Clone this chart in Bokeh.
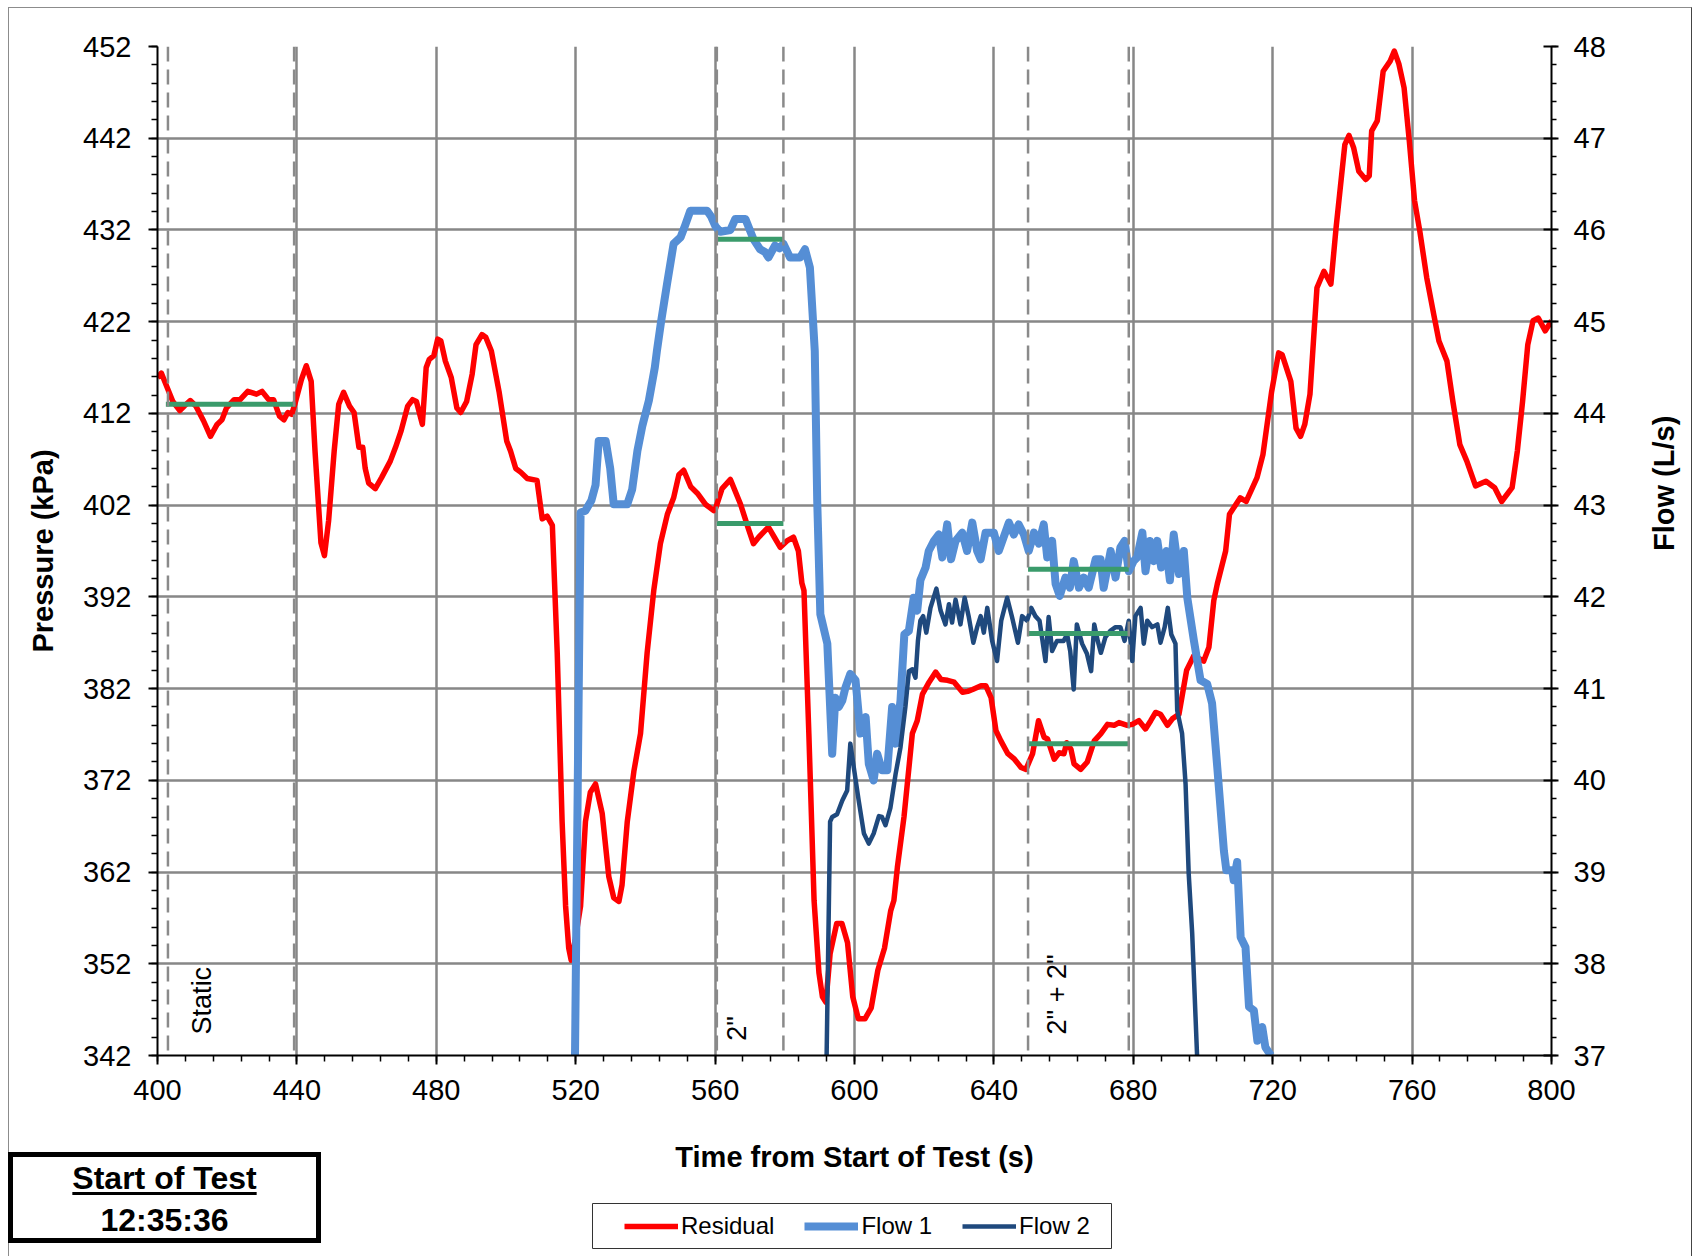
import math
from bokeh.plotting import figure
from bokeh.models import (Range1d, LinearAxis, FixedTicker, Legend, LegendItem, Span, Div)
from bokeh.core.properties import value
from bokeh.embed import file_html
from bokeh.resources import INLINE

# ---------------- data ----------------
res_t = [400.0, 401.1, 402.8, 404.4, 406.4, 407.7, 409.4, 411.0, 413.2, 415.2, 417.1, 418.5, 419.8,
         422.0, 423.7, 425.9, 428.4, 430.0, 431.9, 433.3, 435.0, 436.3, 437.4, 438.5, 439.4, 441.3,
         442.7, 444.1, 445.2, 446.9, 447.9, 449.1, 450.7, 452.0, 453.4, 455.1, 456.4, 457.8, 458.9,
         459.6, 460.6, 462.5, 464.3, 466.8, 468.3, 469.9, 471.8, 473.2, 474.3, 476.0, 477.1, 478.0,
         479.3, 480.4, 481.3, 482.6, 484.3, 485.9, 487.0, 488.7, 490.3, 491.4, 493.1, 494.2, 495.8,
         498.0, 500.2, 501.3, 502.8, 504.2, 506.1, 508.9, 510.4, 511.8, 513.3, 514.7, 516.1, 517.1,
         518.0, 518.7, 519.9, 521.4, 522.8, 524.2, 525.7, 527.6, 529.5, 530.9, 532.4, 533.3, 534.8,
         536.7, 538.6, 540.5, 542.4, 544.3, 546.3, 548.1, 549.6, 551.0, 553.0, 554.9, 557.2, 559.6,
         560.1, 562.0, 564.4, 567.3, 569.5, 571.0, 572.5, 575.3, 577.0, 578.7, 580.6, 582.5, 583.9,
         584.9, 585.5, 586.9, 588.4, 589.8, 590.8, 591.8, 593.0, 594.9, 596.4, 598.0, 599.5, 601.1,
         603.0, 604.8, 606.7, 608.6, 610.4, 611.3, 612.3, 614.2, 616.6, 618.0, 619.5, 621.4, 623.3,
         624.8, 626.7, 628.6, 631.0, 632.5, 633.9, 636.3, 637.7, 639.2, 640.6, 642.0, 644.0, 645.9,
         647.8, 649.2, 651.1, 652.8, 654.4, 655.4, 657.3, 658.7, 660.1, 660.9, 662.1, 663.0, 664.9,
         666.8, 668.8, 670.7, 672.6, 674.5, 675.9, 678.3, 679.7, 681.6, 683.5, 685.0, 686.4, 687.8,
         689.8, 691.2, 693.1, 695.3, 697.4, 700.2, 701.7, 703.1, 704.1, 706.5, 707.6, 709.3, 710.7,
         712.4, 714.2, 715.5, 717.2, 719.7, 721.7, 722.7, 725.2, 726.7, 728.0, 729.2, 730.7, 732.7,
         734.7, 736.7, 738.2, 739.2, 740.7, 741.9, 743.2, 744.7, 746.7, 747.7, 748.4, 750.0, 751.7,
         753.7, 754.9, 756.2, 757.7, 759.2, 760.7, 762.2, 764.2, 766.2, 767.7, 770.0, 771.7, 773.7,
         775.7, 778.2, 781.2, 783.7, 785.7, 788.7, 790.2, 791.7, 793.2, 794.7, 796.2, 798.2, 800.0]
res_p = [415.9, 416.4, 414.8, 413.3, 412.3, 412.8, 413.4, 412.8, 411.2, 409.5, 410.8, 411.3, 412.6,
         413.5, 413.5, 414.4, 414.1, 414.4, 413.5, 413.5, 411.7, 411.3, 412.1, 411.9, 413.0, 415.7,
         417.2, 415.5, 407.9, 397.9, 396.5, 400.3, 407.9, 413.0, 414.3, 412.8, 412.1, 408.3, 408.3,
         406.0, 404.4, 403.8, 405.0, 406.8, 408.3, 410.1, 412.8, 413.5, 413.3, 410.8, 417.0, 417.9,
         418.3, 420.1, 419.9, 417.7, 415.9, 412.6, 412.1, 413.3, 416.3, 419.5, 420.6, 420.3, 418.8,
         414.4, 409.0, 407.9, 406.0, 405.6, 404.9, 404.7, 400.5, 400.8, 399.8, 385.9, 367.5, 358.3,
         353.7, 352.4, 354.7, 358.3, 367.5, 370.7, 371.6, 368.4, 361.5, 359.2, 358.8, 360.6, 367.5,
         373.0, 377.1, 385.9, 392.7, 397.8, 401.0, 402.8, 405.3, 405.8, 404.0, 403.3, 402.1, 401.4,
         401.6, 403.8, 404.8, 402.1, 399.5, 397.8, 398.5, 399.6, 398.5, 397.4, 398.1, 398.5, 397.0,
         393.5, 392.7, 377.1, 358.9, 351.0, 348.4, 347.8, 353.1, 356.4, 356.4, 354.3, 348.4, 346.0,
         346.0, 347.2, 351.3, 353.7, 357.8, 358.9, 362.5, 368.0, 377.1, 378.5, 381.4, 382.7, 383.8,
         383.0, 382.9, 382.7, 381.6, 381.7, 381.9, 382.3, 382.3, 381.0, 377.4, 376.3, 374.9, 374.3,
         373.4, 373.2, 374.9, 378.5, 376.7, 376.5, 374.3, 375.0, 374.9, 376.1, 375.4, 373.8, 373.2,
         374.0, 376.3, 377.1, 378.1, 378.0, 378.3, 378.0, 378.1, 378.5, 377.6, 378.5, 379.4, 379.2,
         378.0, 378.7, 379.2, 384.0, 385.6, 385.0, 386.5, 391.6, 393.4, 397.0, 401.0, 402.0, 402.8,
         402.4, 403.9, 405.0, 407.5, 414.4, 418.6, 418.4, 415.5, 410.4, 409.5, 410.8, 414.1, 425.7,
         427.5, 426.1, 432.3, 435.9, 441.3, 442.3, 441.0, 438.4, 437.5, 437.9, 442.8, 443.9, 449.3,
         450.4, 451.5, 450.1, 447.5, 441.7, 435.2, 431.9, 426.8, 422.8, 419.9, 417.7, 413.3, 408.6,
         406.8, 404.1, 404.6, 403.9, 402.4, 403.9, 407.9, 413.3, 419.5, 422.1, 422.4, 421.0, 422.1]

flow1_t = [519.8, 520.6, 521.4, 522.8, 524.5, 525.7, 526.6, 528.6, 529.9, 530.9, 534.8, 536.2, 537.7,
           539.1, 541.0, 542.7, 543.3, 544.5, 546.2, 548.1, 550.1, 551.4, 552.9, 557.7, 558.8, 560.1,
           561.5, 564.4, 565.8, 568.7, 571.0, 572.9, 574.3, 575.3, 577.2, 578.5, 579.6, 581.5, 584.4,
           585.8, 587.2, 588.6, 589.3, 590.2, 592.2, 593.6, 594.5, 595.5, 596.5, 597.4, 598.8, 600.3,
           601.7, 603.2, 604.1, 605.5, 606.5, 607.9, 609.4, 610.8, 611.8, 613.2, 614.3, 615.6, 617.0,
           618.0, 618.9, 620.4, 621.3, 622.8, 624.2, 625.2, 626.6, 627.7, 629.0, 630.9, 632.3, 633.8,
           635.2, 636.2, 637.6, 640.0, 641.4, 642.8, 644.3, 645.7, 647.1, 648.6, 650.0, 651.5, 652.9,
           654.3, 655.3, 656.7, 657.7, 658.9, 660.5, 661.8, 662.9, 664.4, 665.8, 667.2, 669.2, 670.6,
           671.5, 673.5, 674.9, 676.3, 677.5, 678.7, 680.1, 681.1, 682.6, 683.5, 684.8, 685.9, 686.9,
           688.0, 689.5, 690.5, 691.6, 693.1, 694.5, 695.5, 697.4, 699.3, 701.2, 702.6, 704.1, 706.0,
           706.7, 708.4, 708.8, 709.8, 710.8, 712.2, 713.2, 714.6, 715.6, 717.0, 717.9, 719.5]
flow1_q = [37.0, 40.0, 42.92, 42.94, 43.05, 43.22, 43.70, 43.70, 43.40, 43.01, 43.01, 43.17, 43.59,
           43.86, 44.14, 44.50, 44.68, 45.00, 45.41, 45.85, 45.92, 46.05, 46.21, 46.21, 46.15, 46.04,
           45.98, 46.00, 46.12, 46.12, 45.90, 45.79, 45.76, 45.70, 45.83, 45.80, 45.85, 45.70, 45.70,
           45.79, 45.59, 44.68, 43.05, 41.81, 41.49, 40.29, 40.90, 40.80, 40.87, 41.01, 41.16, 41.09,
           40.51, 40.69, 40.18, 40.00, 40.29, 40.11, 40.11, 40.80, 40.40, 40.87, 41.59, 41.63, 41.99,
           41.85, 42.18, 42.32, 42.50, 42.61, 42.68, 42.43, 42.79, 42.41, 42.61, 42.70, 42.50, 42.81,
           42.50, 42.41, 42.70, 42.70, 42.50, 42.65, 42.81, 42.68, 42.79, 42.68, 42.50, 42.70, 42.58,
           42.79, 42.43, 42.61, 42.14, 42.01, 42.21, 42.10, 42.39, 42.10, 42.21, 42.10, 42.41, 42.41,
           42.10, 42.50, 42.21, 42.54, 42.61, 42.28, 42.39, 42.43, 42.70, 42.28, 42.61, 42.39, 42.61,
           42.32, 42.50, 42.18, 42.68, 42.25, 42.50, 41.99, 41.52, 41.09, 41.05, 40.84, 40.14, 39.23,
           39.02, 39.02, 38.91, 39.11, 38.29, 38.18, 37.53, 37.49, 37.16, 37.31, 37.09, 37.0]

flow2_t = [592.0, 593.0, 593.6, 595.0, 596.5, 597.9, 598.8, 599.8, 601.2, 602.7, 604.1, 605.5, 607.0,
           607.9, 608.9, 610.3, 611.8, 613.2, 614.6, 615.6, 616.6, 617.5, 618.2, 618.9, 619.7, 620.6,
           621.8, 623.5, 624.7, 626.1, 627.1, 628.0, 629.0, 630.4, 631.6, 632.8, 634.1, 635.2, 636.2,
           637.1, 638.1, 639.5, 640.9, 642.1, 643.8, 645.2, 646.9, 648.1, 649.5, 650.7, 651.9, 653.1,
           654.8, 655.7, 656.7, 658.1, 660.0, 661.0, 661.9, 662.9, 663.8, 665.3, 666.7, 667.9, 668.8,
           669.8, 670.7, 672.0, 673.4, 674.9, 676.3, 677.5, 678.7, 679.7, 680.6, 682.1, 683.0, 684.0,
           685.4, 686.9, 687.8, 689.0, 689.9, 690.9, 692.1, 692.6, 694.0, 695.0, 695.9, 696.9, 698.3]
flow2_q = [37.0, 39.55, 39.60, 39.63, 39.78, 39.89, 40.40, 40.14, 39.78, 39.42, 39.31, 39.42, 39.61,
           39.60, 39.51, 39.70, 40.07, 40.36, 40.80, 41.19, 41.21, 41.12, 41.52, 41.74, 41.79, 41.61,
           41.88, 42.09, 41.85, 41.70, 41.92, 41.72, 41.97, 41.70, 41.99, 41.78, 41.50, 41.67, 41.79,
           41.61, 41.88, 41.52, 41.30, 41.74, 41.99, 41.78, 41.50, 41.79, 41.74, 41.88, 41.79, 41.74,
           41.30, 41.78, 41.41, 41.52, 41.52, 41.59, 41.41, 40.99, 41.70, 41.49, 41.38, 41.19, 41.70,
           41.52, 41.39, 41.56, 41.63, 41.67, 41.67, 41.52, 41.74, 41.30, 41.79, 41.88, 41.49, 41.74,
           41.67, 41.70, 41.50, 41.67, 41.88, 41.59, 41.49, 40.76, 40.51, 39.96, 38.98, 38.33, 37.0]

# test phase markers (s) and phase averages
phase_marks = [403.0, 439.2, 560.5, 579.6, 649.8, 678.7]
avg_res_t0 = [402.4, 560.5, 649.8]
avg_res_t1 = [439.6, 579.6, 678.7]
avg_res_p = [413.0, 400.0, 376.0]
avg_f1_t0 = [560.5, 649.8]
avg_f1_t1 = [579.6, 678.7]
avg_f1_q = [45.9, 42.3]
avg_f2_t0 = [649.8]
avg_f2_t1 = [678.7]
avg_f2_q = [41.6]

phase_names = ["Static", "2\"", "2\" + 2\""]
phase_label_t = [412.9, 566.2, 658.0]
phase_label_p = [344.3, 343.6, 344.3]

series_names = ["Residual", "Flow 1", "Flow 2"]
start_title = "Start of Test"
start_time = "12:35:36"

x_ticks = list(range(400, 801, 40))
x_minor = list(range(400, 801, 8))
p_ticks = list(range(342, 453, 10))
p_minor = list(range(342, 453, 2))
f_ticks = list(range(37, 49))
f_minor = [round(37 + 0.2 * i, 1) for i in range(56)]

# ---------------- styles ----------------
FONT = "Liberation Sans"
BLACK = "#000000"
GRID = "#878787"
RED = "#FF0000"
BLUE1 = "#558ED5"
BLUE2 = "#1F497D"
GREEN = "#3A9B6B"
W_RES, W_F1, W_F2 = 5.5, 8, 4.5

# ---------------- main figure ----------------
p = figure(frame_width=1394, frame_height=1009,
           min_border_left=157, min_border_right=139, min_border_top=46, min_border_bottom=199,
           x_range=Range1d(400, 800), y_range=Range1d(342, 452),
           output_backend="svg", toolbar_location=None)
p.extra_y_ranges = {"flow": Range1d(37, 48)}
p.background_fill_color = "white"
p.border_fill_color = "white"
p.outline_line_color = None

p.xgrid.ticker = FixedTicker(ticks=x_ticks)
p.ygrid.ticker = FixedTicker(ticks=p_ticks)
for g in (p.xgrid, p.ygrid):
    g.grid_line_color = GRID
    g.grid_line_width = 2.5

xa = p.xaxis[0]
xa.ticker = FixedTicker(ticks=x_ticks, minor_ticks=x_minor)
xa.axis_label = "Time from Start of Test (s)"
ya = p.yaxis[0]
ya.ticker = FixedTicker(ticks=p_ticks, minor_ticks=p_minor)
ya.axis_label = "Pressure (kPa)"
ra = LinearAxis(y_range_name="flow", ticker=FixedTicker(ticks=f_ticks, minor_ticks=f_minor),
                axis_label="Flow (L/s)")
if "axis_label_orientation" in ra.properties():
    ra.axis_label_orientation = math.pi / 2
p.add_layout(ra, "right")

for ax in (xa, ya, ra):
    ax.axis_line_color = BLACK
    ax.axis_line_width = 2
    ax.major_tick_line_color = BLACK
    ax.major_tick_line_width = 2
    ax.minor_tick_line_color = BLACK
    ax.minor_tick_line_width = 1.5
    ax.major_label_text_font = FONT
    ax.major_label_text_font_size = "29px"
    ax.major_label_text_color = BLACK
    ax.axis_label_text_font = FONT
    ax.axis_label_text_font_size = "29px"
    ax.axis_label_text_font_style = "bold"
    ax.axis_label_text_color = BLACK

xa.major_tick_in = 0
xa.major_tick_out = 9
xa.minor_tick_in = 0
xa.minor_tick_out = 6
xa.major_label_standoff = 15
xa.axis_label_standoff = 38

ya.major_tick_in = 0
ya.major_tick_out = 9
ya.minor_tick_in = 0
ya.minor_tick_out = 6
ya.major_label_standoff = 17
ya.axis_label_standoff = 21

ra.major_tick_in = 8
ra.major_tick_out = 7
ra.minor_tick_in = 0
ra.minor_tick_out = 5
ra.major_label_standoff = 15
ra.axis_label_standoff = 55

for t in phase_marks:
    p.add_layout(Span(location=t, dimension="height", line_color="#8a8a8a",
                      line_width=2.5, line_dash="15 8"))

p.line(res_t, res_p, line_color=RED, line_width=W_RES, line_join="round")
p.line(flow1_t, flow1_q, y_range_name="flow", line_color=BLUE1, line_width=W_F1, line_join="round")
p.line(flow2_t, flow2_q, y_range_name="flow", line_color=BLUE2, line_width=W_F2, line_join="round")

p.segment(x0=avg_res_t0, x1=avg_res_t1, y0=avg_res_p, y1=avg_res_p, line_color=GREEN, line_width=5)
p.segment(x0=avg_f1_t0, x1=avg_f1_t1, y0=avg_f1_q, y1=avg_f1_q, y_range_name="flow",
          line_color=GREEN, line_width=5)
p.segment(x0=avg_f2_t0, x1=avg_f2_t1, y0=avg_f2_q, y1=avg_f2_q, y_range_name="flow",
          line_color=GREEN, line_width=5)

p.text(x=phase_label_t, y=phase_label_p, text=phase_names, angle=math.pi / 2,
       text_align="left", text_baseline="middle", text_font=value(FONT),
       text_font_size="27px", text_color=BLACK)

# ---------------- legend (own small figure, placed below the axis title) ----------------
lg = figure(width=521, height=47, min_border=1, x_range=Range1d(0, 1), y_range=Range1d(0, 1),
            x_axis_location=None, y_axis_location=None, output_backend="svg",
            toolbar_location=None)
lg.grid.visible = False
lg.outline_line_color = "#333333"
lg.outline_line_width = 1
lg.background_fill_color = "white"
lg.border_fill_color = None
lg.margin = 0
lg_r = [lg.line([5, 6], [5, 6], line_color=c, line_width=w)
        for c, w in ((RED, W_RES), (BLUE1, W_F1), (BLUE2, W_F2))]
legend = Legend(items=[LegendItem(label=n, renderers=[r]) for n, r in zip(series_names, lg_r)],
                orientation="horizontal", location=(32, 8))
legend.label_text_font = FONT
legend.label_text_font_size = "24px"
legend.label_text_color = BLACK
legend.glyph_width = 54
legend.glyph_height = 22
legend.label_standoff = 3
legend.spacing = 30
legend.padding = 0
legend.margin = 0
legend.border_line_color = None
legend.background_fill_alpha = 0
lg.add_layout(legend, "center")
lg.styles = {"position": "absolute", "left": "591px", "top": "1202px", "z-index": "5"}

# ---------------- "Start of Test" box ----------------
box_html = (
    '<div style="box-sizing:border-box;width:313px;height:91px;border:5px solid #000;'
    'background:#fff;text-align:center;font-family:\'Liberation Sans\',Arial,sans-serif;'
    'font-weight:bold;font-size:32px;line-height:42px;color:#000;">'
    '<span style="text-decoration:underline;text-decoration-thickness:3px;'
    'text-underline-offset:3px;">' + start_title + '</span><br>' + start_time + '</div>')
start_box = Div(text=box_html, width=313, height=91, margin=0,
                styles={"position": "absolute", "left": "8px", "top": "1152px", "z-index": "5"})

# ---------------- thin outer chart border ----------------
chart_border = Div(text="", width=1684, height=1249, margin=0,
                   styles={"position": "absolute", "left": "8px", "top": "7px",
                           "border-left": "1px solid #8c8c8c", "border-top": "1px solid #8c8c8c",
                           "border-right": "1px solid #444444", "pointer-events": "none",
                           "z-index": "4"})

open("out.html", "w").write(file_html([p, chart_border, start_box, lg], INLINE))
